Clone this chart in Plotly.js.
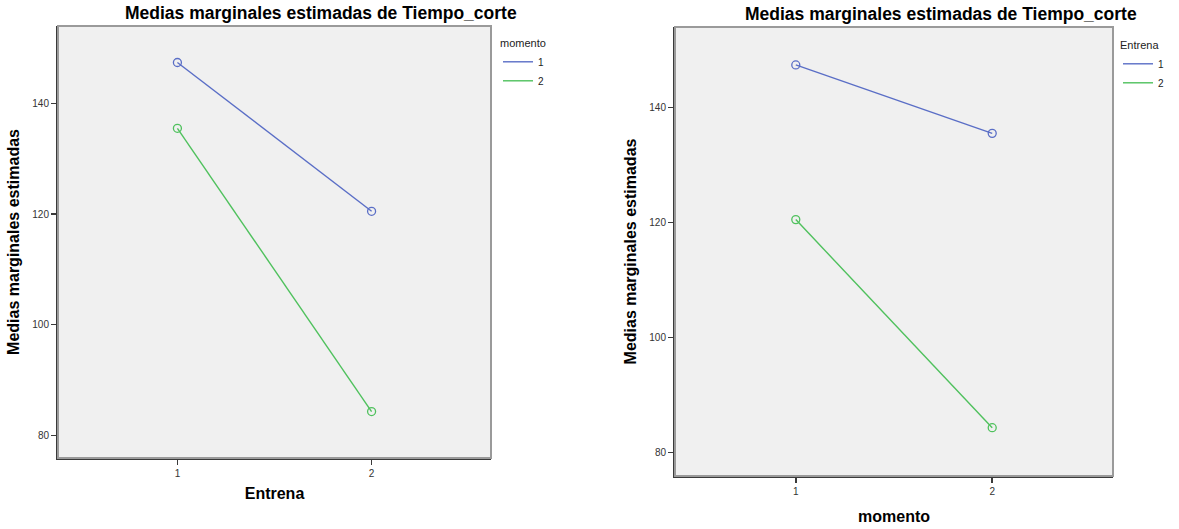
<!DOCTYPE html>
<html>
<head>
<meta charset="utf-8">
<script src="https://cdn.plot.ly/plotly-3.0.1.min.js"></script>
<style>html,body{margin:0;padding:0;background:#fff;}#chart{width:1179px;height:529px;}</style>
</head>
<body>
<div id="chart"></div>
<script>
// Data (estimated marginal means of Tiempo_corte)
const levels = [1, 2];
const levelLabels = ['1', '2'];
// Left chart: x = Entrena, lines = momento
const leftMomento1 = [147.4, 120.5];
const leftMomento2 = [135.5, 84.3];
// Right chart: x = momento, lines = Entrena
const rightEntrena1 = [147.4, 135.5];
const rightEntrena2 = [120.5, 84.3];
const yTicks = [80, 100, 120, 140];

const chartTitle = 'Medias marginales estimadas de Tiempo_corte';
const yTitle = 'Medias marginales estimadas';

const BLUE = '#5a6ec6';
const GREEN = '#4fc15d';
const FONT = 'Liberation Sans, Arial, sans-serif';

function lineTrace(y, name, color, xa, ya, legend) {
  return {x: levels, y: y, name: name, type: 'scatter', mode: 'lines',
    line: {color: color, width: 1.4}, xaxis: xa, yaxis: ya, legend: legend, showlegend: true, hoverinfo: 'skip'};
}
function markerTrace(y, color, xa, ya) {
  return {x: levels, y: y, type: 'scatter', mode: 'markers',
    marker: {symbol: 'circle-open', size: 8, color: color, line: {width: 1.3, color: color}},
    xaxis: xa, yaxis: ya, showlegend: false, hoverinfo: 'skip'};
}

const data = [
  lineTrace(leftMomento1, '1', BLUE, 'x', 'y', 'legend'),
  lineTrace(leftMomento2, '2', GREEN, 'x', 'y', 'legend'),
  markerTrace(leftMomento1, BLUE, 'x', 'y'),
  markerTrace(leftMomento2, GREEN, 'x', 'y'),
  lineTrace(rightEntrena1, '1', BLUE, 'x2', 'y2', 'legend2'),
  lineTrace(rightEntrena2, '2', GREEN, 'x2', 'y2', 'legend2'),
  markerTrace(rightEntrena1, BLUE, 'x2', 'y2'),
  markerTrace(rightEntrena2, GREEN, 'x2', 'y2')
];

const W = 1179, H = 529;
function xf(px) { return px / W; }
function yf(py) { return 1 - py / H; }

function xAxis(dom, title, standoff) {
  return {domain: dom, range: [0.385, 2.615], tickvals: levels, ticktext: levelLabels,
    showgrid: false, zeroline: false, showline: true, linecolor: '#3a3a3a', linewidth: 2,
    ticks: 'outside', ticklen: 5, tickwidth: 1.5, tickcolor: '#3a3a3a',
    tickfont: {family: FONT, size: 10, color: '#333'}, fixedrange: true,
    title: {text: title, font: {family: FONT, size: 16, color: '#000', weight: 'bold'}, standoff: standoff}};
}
function yAxis(dom, anchor, standoff) {
  return {domain: dom, range: [75.9, 154], tickvals: yTicks, anchor: anchor,
    showgrid: false, zeroline: false, showline: true, linecolor: '#3a3a3a', linewidth: 2,
    ticks: 'outside', ticklen: 5, tickwidth: 1.5, tickcolor: '#3a3a3a',
    tickfont: {family: FONT, size: 10, color: '#333'}, fixedrange: true,
    title: {text: yTitle, font: {family: FONT, size: 16, color: '#000', weight: 'bold'}, standoff: standoff}};
}

const layout = {
  width: W, height: H,
  margin: {l: 0, r: 0, t: 0, b: 0},
  paper_bgcolor: '#ffffff', plot_bgcolor: '#f0f0f0',
  font: {family: FONT},
  showlegend: true,
  xaxis: Object.assign(xAxis([xf(58), xf(491)], 'Entrena', 10), {anchor: 'y'}),
  yaxis: yAxis([yf(458), yf(26)], 'x', 9),
  xaxis2: Object.assign(xAxis([xf(675), xf(1113)], 'momento', 15), {anchor: 'y2'}),
  yaxis2: yAxis([yf(476), yf(27)], 'x2', 9),
  legend: {x: xf(498), y: yf(33), xanchor: 'left', yanchor: 'top', bgcolor: 'rgba(0,0,0,0)',
    title: {text: 'momento', font: {family: FONT, size: 11, color: '#222'}},
    font: {family: FONT, size: 10, color: '#222'}, itemwidth: 30, tracegroupgap: 0},
  legend2: {x: xf(1118), y: yf(35), xanchor: 'left', yanchor: 'top', bgcolor: 'rgba(0,0,0,0)',
    title: {text: 'Entrena', font: {family: FONT, size: 11, color: '#222'}},
    font: {family: FONT, size: 10, color: '#222'}, itemwidth: 30, tracegroupgap: 0},
  shapes: [
    {type: 'rect', xref: 'x domain', yref: 'y domain', x0: 0, x1: 1, y0: 0, y1: 1,
      line: {color: '#9a9a9a', width: 2}, fillcolor: 'rgba(0,0,0,0)', layer: 'above'},
    {type: 'rect', xref: 'x2 domain', yref: 'y2 domain', x0: 0, x1: 1, y0: 0, y1: 1,
      line: {color: '#9a9a9a', width: 2}, fillcolor: 'rgba(0,0,0,0)', layer: 'above'}
  ],
  annotations: [
    {text: chartTitle, xref: 'paper', yref: 'paper', x: xf(321), y: yf(13), xanchor: 'center', yanchor: 'middle',
      showarrow: false, font: {family: FONT, size: 17.5, color: '#000', weight: 'bold'}},
    {text: chartTitle, xref: 'paper', yref: 'paper', x: xf(941), y: yf(14), xanchor: 'center', yanchor: 'middle',
      showarrow: false, font: {family: FONT, size: 17.5, color: '#000', weight: 'bold'}}
  ]
};

Plotly.newPlot('chart', data, layout, {displayModeBar: false, staticPlot: true});
</script>
</body>
</html>
